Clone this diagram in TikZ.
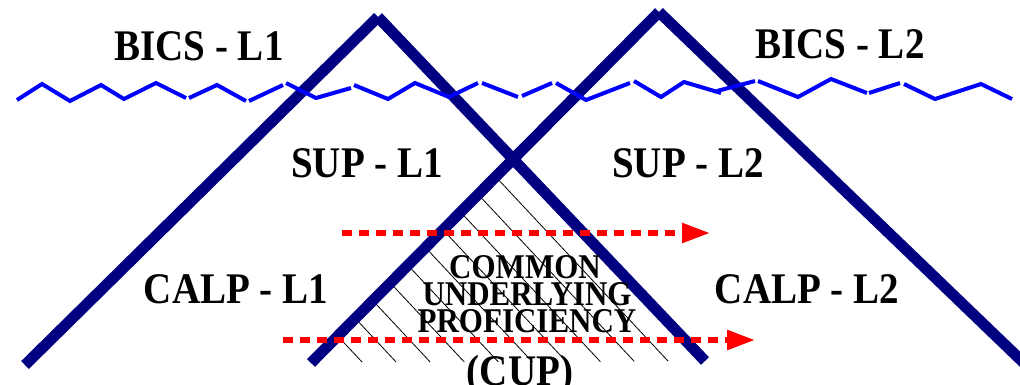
\documentclass[tikz,border=0pt]{standalone}
\usepackage{fontspec}
\setmainfont{Liberation Serif}
\usepackage{graphicx}
\usetikzlibrary{arrows.meta}
\definecolor{legnavy}{RGB}{0,0,128}
\definecolor{waveblue}{RGB}{0,0,255}
\definecolor{flowred}{RGB}{255,0,0}
\newcommand{\tallText}[1]{\scalebox{1}[1.12]{#1}}

\begin{document}
\begin{tikzpicture}[x=1pt,y=-1pt,
  leg/.style={line width=11pt, legnavy, line cap=butt},
  wave/.style={line width=4pt, waveblue},
  flow/.style={line width=5.5pt, flowred, dash pattern=on 10pt off 7pt,
    -{Triangle[length=28pt,width=19pt]}},
  hatch/.style={line width=0.8pt, black},
  lang/.style={font=\bfseries\fontsize{39}{40}\selectfont, inner sep=0pt, anchor=base},
  cup/.style={font=\bfseries\fontsize{31}{32}\selectfont, inner sep=0pt, anchor=base}]
\useasboundingbox (0,0) rectangle (1020,384);
% the two triangles
\coordinate (apexA) at (378,17);
\coordinate (footAl) at (25,365);
\coordinate (footAr) at (705,361);
\coordinate (apexB) at (659,12);
\coordinate (footBl) at (311,363);
\coordinate (footBr) at (1025,364);
\coordinate (cross) at (intersection of apexA--footAr and apexB--footBl);
\begin{scope}
  \clip (cross) -- (footBl) -- (footAr) -- cycle;
  \foreach \k in {0,...,9}
    \draw[hatch] ({362+34.1*\k},362) -- ++(-330,-353);
\end{scope}
\draw[leg] (apexA) -- (footAl);
\draw[leg] (apexA) -- (footAr);
\draw[leg] (apexB) -- (footBl);
\draw[leg] (apexB) -- (footBr);
% surface line
\draw[wave] (17,100) -- (42,84) -- (70,101) -- (101,85) -- (124,99) -- (156,83) -- (186,98)
  (189,98) -- (217,85) -- (246,101)
  (249,101) -- (283,85)
  (286,83) -- (316,98) -- (351,88)
  (354,85) -- (388,99) -- (415,83) -- (449,97) -- (478,83)
  (482,83) -- (518,97)
  (522,96) -- (552,83)
  (556,83) -- (586,100) -- (630,83)
  (634,81) -- (661,97) -- (684,82) -- (721,93)
  (717,91) -- (755,81)
  (758,81) -- (798,97) -- (831,79) -- (867,93)
  (869,93) -- (900,83)
  (904,84) -- (935,99) -- (981,84) -- (1012,99);
% transfer arrows
\coordinate (upStart) at (342,233);
\coordinate (upEnd) at (710,233);
\coordinate (lowStart) at (283,340);
\coordinate (lowEnd) at (755,340);
\draw[flow] (upStart) -- (upEnd);
\draw[flow] (lowStart) -- (lowEnd);
% labels
\node[lang] (bicsA) at (199,60) {\tallText{BICS - L1}};
\node[lang] (bicsB) at (840,58) {\tallText{BICS - L2}};
\node[lang] (supA) at (367,177) {\tallText{SUP - L1}};
\node[lang] (supB) at (688,177) {\tallText{SUP - L2}};
\node[lang] (calpA) at (236,303) {\tallText{CALP - L1}};
\node[lang] (calpB) at (807,303) {\tallText{CALP - L2}};
\node[cup] (common) at (525,278) {\tallText{COMMON}};
\node[cup] (underlying) at (527,305) {\tallText{UNDERLYING}};
\node[cup] (proficiency) at (527,332) {\tallText{PROFICIENCY}};
\node[lang] (cupname) at (520,385) {\tallText{(CUP)}};
\end{tikzpicture}
\end{document}
